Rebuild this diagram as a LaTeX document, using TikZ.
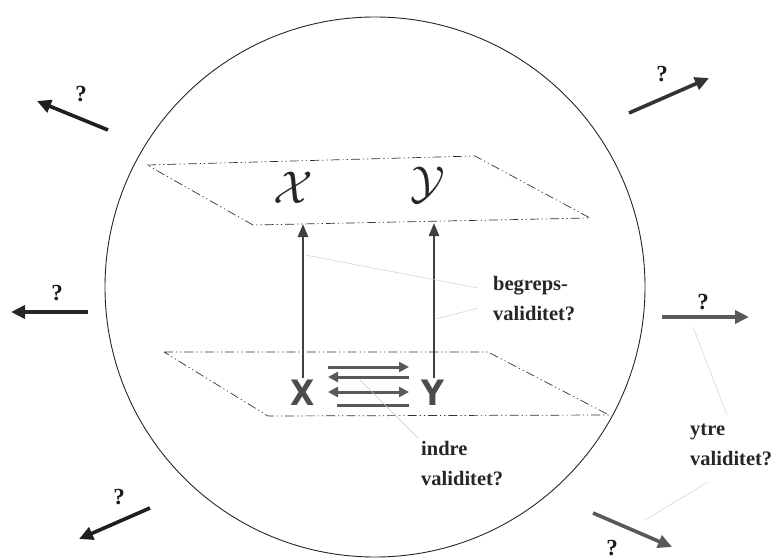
\documentclass[tikz,border=0pt]{standalone}
\usepackage{fontspec}
\setmainfont{Liberation Serif}
\newfontfamily\xyfont{DejaVu Sans Condensed}
\usetikzlibrary{arrows.meta, positioning, calc}

\begin{document}
\begin{tikzpicture}[x=1pt, y=-1pt,
  plane/.style={line width=0.7pt, black!80, dash pattern=on 9pt off 3pt on 1.2pt off 3pt on 1.2pt off 3pt},
  outarrow/.style={line width=3.6pt, -{Triangle[length=14pt, width=13pt]}},
  uparrow/.style={line width=2.6pt, black!75, -{Triangle[length=13pt, width=10pt]}},
  sidearrow/.style={line width=3pt, black!65},
  concept/.style={text=black!85, inner sep=0pt},
  measure/.style={font=\fontsize{35}{35}\selectfont\xyfont\bfseries, text=black!70, inner sep=0pt},
  leader/.style={line width=0.4pt, black!22},
  qmark/.style={font=\fontsize{23}{23}\selectfont\bfseries, text=black!90, inner sep=0pt},
  label/.style={font=\fontsize{20.5}{30}\selectfont\bfseries, align=left, anchor=north west, text=black!85, inner sep=0pt}]
\useasboundingbox (0,0) rectangle (784,559);

% The circle
\draw[line width=0.9pt, black!85] (375,287) circle (270);

% Planes
\draw[plane] (147,165) -- (475,156) -- (590,218) -- (253,225) -- cycle; % concept level
\draw[plane] (164,352) -- (488,352) -- (609,415) -- (268,416) -- cycle; % measure level

% Concepts
\node[concept] (cx) at (293,188) {\scalebox{4.6}{$\mathcal{X}$}};
\node[concept] (cy) at (428,185) {\scalebox{4.6}{$\mathcal{Y}$}};

% Measures
\node[measure] (mx) at (303,393) {X};
\node[measure] (my) at (433,393) {Y};
\coordinate (mxtop) at (303,378);
\coordinate (mytop) at (434,378);
\coordinate (cxbot) at (303,224);
\coordinate (cybot) at (434,223);
\draw[uparrow] (mxtop) -- (cxbot);
\draw[uparrow] (mytop) -- (cybot);

% Arrows between X and Y
\coordinate (h1l) at (328,367); \coordinate (h1r) at (409,367);
\coordinate (h2l) at (328,377); \coordinate (h2r) at (409,377);
\coordinate (h3l) at (328,392); \coordinate (h3r) at (409,392);
\coordinate (h4l) at (337,405); \coordinate (h4r) at (409,405);
\draw[sidearrow, -{Triangle[length=10pt, width=10pt]}] (h1l) -- (h1r);
\draw[sidearrow, -{Triangle[length=10pt, width=10pt]}] (h2r) -- (h2l);
\draw[sidearrow, {Triangle[length=10pt, width=10pt]}-{Triangle[length=10pt, width=10pt]}] (h3l) -- (h3r);
\draw[sidearrow] (h4l) -- (h4r);

% Labels
\node[label] (begreps) at (493,276) {begreps-\\validitet?};
\node[label] (indre) at (421,441) {indre\\validitet?};
\node[label] (ytre) at (690,424) {ytre\\validitet?};

% Leader lines
\coordinate (lx) at (305,255);
\coordinate (ly) at (436,319);
\coordinate (lh) at (360,380);
\draw[leader] (lx) -- (478,288);
\draw[leader] (ly) -- (478,308);
\draw[leader] (lh) -- (418,438);
\coordinate (lr) at (693,327);
\coordinate (lbr) at (645,520);
\draw[leader] (lr) -- (727,415);
\draw[leader] (708,482) -- (lbr);

% Outward arrows
\coordinate (tls) at (108,130); \coordinate (tle) at (37,101);
\draw[outarrow, black!88] (tls) -- (tle);
\node[qmark] (qtl) at (81,94) {?};

\coordinate (ls) at (88,312); \coordinate (le) at (11,312);
\draw[outarrow, black!85] (ls) -- (le);
\node[qmark] (ql) at (57,293) {?};

\coordinate (bls) at (150,508); \coordinate (ble) at (79,539);
\draw[outarrow, black!88] (bls) -- (ble);
\node[qmark] (qbl) at (119,497) {?};

\coordinate (trs) at (629,113); \coordinate (tre) at (709,78);
\draw[outarrow, black!80] (trs) -- (tre);
\node[qmark] (qtr) at (662,74) {?};

\coordinate (rs) at (662,317); \coordinate (re) at (749,317);
\draw[outarrow, black!65] (rs) -- (re);
\node[qmark] (qr) at (703,302) {?};

\coordinate (brs) at (593,513); \coordinate (bre) at (672,547);
\draw[outarrow, black!65] (brs) -- (bre);
\node[qmark] (qbr) at (612,548) {?};
\end{tikzpicture}
\end{document}
